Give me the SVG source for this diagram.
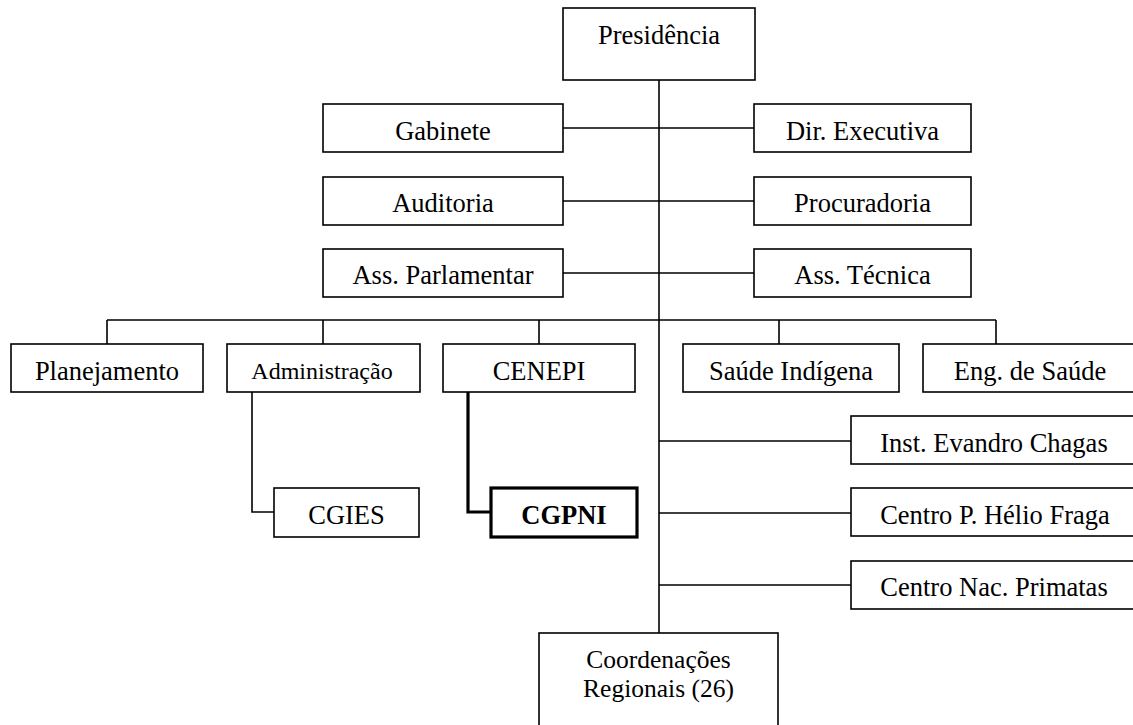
<svg xmlns="http://www.w3.org/2000/svg" width="1133" height="725" viewBox="0 0 1133 725">
<style>
  .box{fill:#fff;stroke:#000;stroke-width:1.6}
  .bold{fill:#fff;stroke:#000;stroke-width:3.2}
  .t{font-family:"Liberation Serif","Times New Roman",serif;font-size:26.5px;fill:#000;text-anchor:middle}
  .s{font-size:24px}
  .m{font-size:25.5px}
  .b{font-weight:bold}
  .ln{fill:none;stroke:#000;stroke-width:1.6}
  .thk{fill:none;stroke:#000;stroke-width:3.2}
</style>
<rect width="1133" height="725" fill="#fff"/>
<g id="connectors">
  <path class="ln" d="M659 80 V633"/>
  <path class="ln" d="M563 128 H754 M563 201 H754 M563 273 H754"/>
  <path class="ln" d="M107 320 H996 M107 320 V344 M323 320 V344 M539 320 V344 M779 320 V344 M996 320 V344"/>
  <path class="ln" d="M659 441 H851 M659 513 H851 M659 585 H851"/>
  <path class="ln" d="M252 392 V512 H274"/>
  <path class="thk" d="M468 392 V512 H491"/>
</g>
<g id="presidencia"><rect class="box" x="563" y="8" width="192" height="72"/><text class="t" x="659" y="44">Presidência</text></g>
<g id="gabinete"><rect class="box" x="323" y="104" width="240" height="48"/><text class="t" x="443" y="140">Gabinete</text></g>
<g id="dir-executiva"><rect class="box" x="754" y="104" width="217" height="48"/><text class="t" x="862.5" y="140">Dir. Executiva</text></g>
<g id="auditoria"><rect class="box" x="323" y="177" width="240" height="48"/><text class="t" x="443" y="212">Auditoria</text></g>
<g id="procuradoria"><rect class="box" x="754" y="177" width="217" height="48"/><text class="t" x="862.5" y="212">Procuradoria</text></g>
<g id="ass-parlamentar"><rect class="box" x="323" y="249" width="240" height="48"/><text class="t" x="443" y="284">Ass. Parlamentar</text></g>
<g id="ass-tecnica"><rect class="box" x="754" y="249" width="217" height="48"/><text class="t" x="862.5" y="284">Ass. Técnica</text></g>
<g id="planejamento"><rect class="box" x="11" y="344" width="192" height="48"/><text class="t" x="107" y="380">Planejamento</text></g>
<g id="administracao"><rect class="box" x="227" y="344" width="193" height="48"/><text class="t s" x="322" y="379">Administração</text></g>
<g id="cenepi"><rect class="box" x="443" y="344" width="192" height="48"/><text class="t" x="539" y="380">CENEPI</text></g>
<g id="saude-indigena"><rect class="box" x="683" y="344" width="216" height="48"/><text class="t" x="791" y="380">Saúde Indígena</text></g>
<g id="eng-saude"><rect class="box" x="923" y="344" width="220" height="48"/><text class="t" x="1030" y="380">Eng. de Saúde</text></g>
<g id="inst-evandro-chagas"><rect class="box" x="851" y="416" width="292" height="48"/><text class="t" x="994" y="452">Inst. Evandro Chagas</text></g>
<g id="cgies"><rect class="box" x="274" y="488" width="145" height="49"/><text class="t" x="346.5" y="524">CGIES</text></g>
<g id="cgpni"><rect class="bold" x="491" y="488" width="146" height="49"/><text class="t b" x="564" y="524">CGPNI</text></g>
<g id="centro-helio-fraga"><rect class="box" x="851" y="488" width="292" height="48"/><text class="t" x="995" y="524">Centro P. Hélio Fraga</text></g>
<g id="centro-primatas"><rect class="box" x="851" y="561" width="292" height="48"/><text class="t" x="994" y="596">Centro Nac. Primatas</text></g>
<g id="coordenacoes"><rect class="box" x="539" y="633" width="239" height="100"/><text class="t m" x="658.5" y="668">Coordenações</text><text class="t m" x="658.5" y="697">Regionais (26)</text></g>
</svg>
